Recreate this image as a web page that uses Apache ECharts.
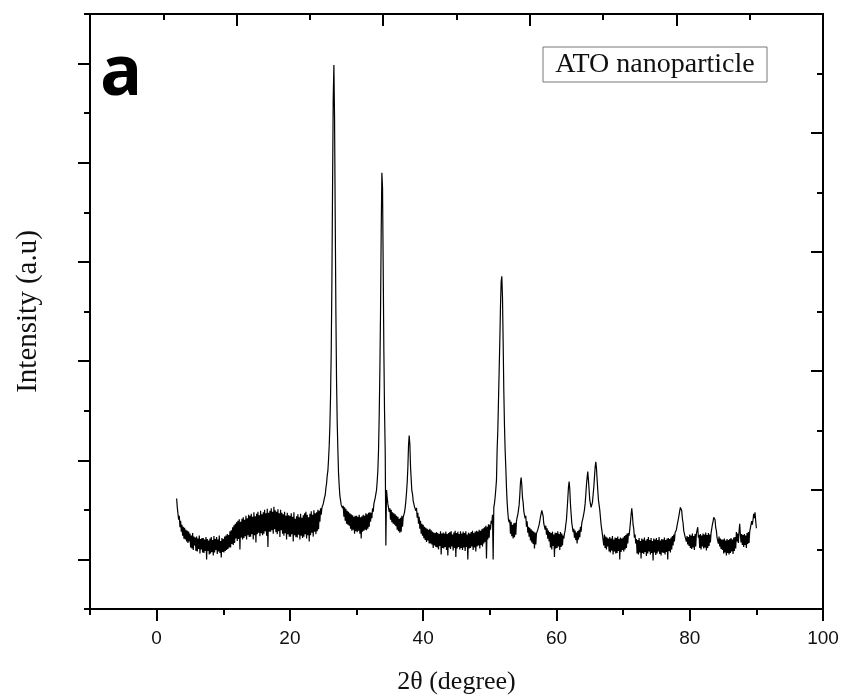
<!DOCTYPE html>
<html>
<head>
<meta charset="utf-8">
<script src="https://cdn.jsdelivr.net/npm/echarts@6/dist/echarts.min.js"></script>
<style>html,body{margin:0;padding:0;background:#fff}#c{width:847px;height:700px}</style>
</head>
<body>
<div id="c"></div>
<script>
// XRD pattern sampled every 0.1 degree, starting at 2θ = 3.0
const twoThetaStart = 3.0;
const twoThetaStep = 0.1;
const intensity = [
/* 3 */ 223,205,208,180,188,165,178,156,170,148,
/* 4 */ 166,142,164,140,160,136,158,133,156,136,
/* 5 */ 152,124,148,122,153,119,146,128,144,117,
/* 6 */ 146,116,142,121,148,112,141,120,143,114,
/* 7 */ 143,113,140,117,145,100,141,117,138,110,
/* 8 */ 142,112,145,115,139,108,147,114,141,119,
/* 9 */ 145,111,140,116,148,113,137,104,143,115,
/*10 */ 141,114,146,117,148,119,151,121,149,124,
/*11 */ 157,124,159,131,165,129,169,133,172,142,
/*12 */ 175,137,178,141,181,120,176,144,182,140,
/*13 */ 185,143,180,147,188,140,183,149,190,145,
/*14 */ 188,146,192,151,186,140,195,149,187,134,
/*15 */ 192,151,196,154,189,147,198,153,191,149,
/*16 */ 195,152,200,157,193,148,202,125,194,156,
/*17 */ 198,156,203,159,196,152,206,161,199,155,
/*18 */ 196,151,201,157,193,145,200,159,194,152,
/*19 */ 191,148,196,153,188,140,194,151,189,146,
/*20 */ 188,146,193,151,186,136,195,149,182,145,
/*21 */ 187,144,191,150,185,140,192,148,184,143,
/*22 */ 189,146,193,151,196,142,190,149,185,136,
/*23 */ 192,149,197,154,190,146,199,156,193,151,
/*24 */ 195,157,200,161,198,176,203,190,204,205,
/*25 */ 212,214,225,230,244,253,269,279,302,330,
/*26 */ 370,430,520,660,850,1030,1097,990,790,600,
/*27 */ 460,375,320,273,248,228,224,210,214,203,
/*28 */ 208,186,205,178,202,172,198,170,196,168,
/*29 */ 193,162,191,158,189,160,186,152,188,157,
/*30 */ 188,155,186,158,190,152,185,142,187,156,
/*31 */ 190,158,188,160,193,159,191,162,194,166,
/*32 */ 195,176,194,183,203,196,212,210,224,232,
/*33 */ 240,258,280,320,390,480,600,760,880,850,
/*34 */ 690,520,400,320,128,240,225,212,208,196,
/*35 */ 203,180,200,175,195,172,193,170,191,167,
/*36 */ 188,160,186,157,182,154,184,156,188,166,
/*37 */ 185,188,195,205,218,235,255,285,330,350,
/*38 */ 332,288,262,238,232,218,217,206,208,198,
/*39 */ 204,184,194,172,186,162,178,152,172,148,
/*40 */ 170,143,166,139,164,135,162,138,160,132,
/*41 */ 162,132,159,130,156,123,154,128,153,125,
/*42 */ 155,124,153,120,151,127,157,110,152,123,
/*43 */ 154,122,152,125,156,119,151,108,153,124,
/*44 */ 155,121,157,126,150,118,154,123,158,105,
/*45 */ 153,122,156,125,151,120,157,123,152,119,
/*46 */ 156,124,153,117,157,125,150,100,154,122,
/*47 */ 152,123,155,126,158,119,153,124,156,116,
/*48 */ 158,126,156,128,160,122,158,129,161,126,
/*49 */ 163,132,165,135,168,102,166,140,171,144,
/*50 */ 170,160,178,172,190,100,205,213,226,242,
/*51 */ 260,322,360,420,480,540,610,660,671,630,
/*52 */ 540,440,370,320,285,245,215,195,180,175,
/*53 */ 180,152,176,147,170,142,173,145,174,150,
/*54 */ 177,185,190,200,210,230,255,265,250,225,
/*55 */ 215,197,201,183,188,166,177,154,166,146,
/*56 */ 164,138,161,134,158,131,156,122,154,130,
/*57 */ 152,148,160,165,170,177,186,192,199,193,
/*58 */ 188,172,174,160,168,150,163,142,158,136,
/*59 */ 155,124,153,120,156,127,150,105,154,122,
/*60 */ 153,123,157,126,151,119,155,125,152,128,
/*61 */ 148,142,152,158,170,180,200,222,245,257,
/*62 */ 242,212,192,174,174,155,162,144,158,139,
/*63 */ 154,132,157,140,160,145,166,156,173,177,
/*64 */ 185,192,200,212,230,250,265,277,260,240,
/*65 */ 220,212,205,208,215,230,245,265,285,297,
/*66 */ 285,262,240,220,210,200,185,170,160,150,
/*67 */ 152,128,150,123,146,120,144,126,142,116,
/*68 */ 145,114,142,118,147,110,140,116,144,112,
/*69 */ 143,113,146,117,141,100,144,115,142,119,
/*70 */ 144,116,147,120,149,123,152,132,153,148,
/*71 */ 160,175,190,203,190,170,162,144,150,132,
/*72 */ 141,112,139,110,143,114,137,102,142,113,
/*73 */ 140,111,144,115,138,107,141,112,145,116,
/*74 */ 139,110,143,113,137,98,142,114,140,109,
/*75 */ 143,112,139,116,145,111,138,108,141,114,
/*76 */ 140,113,144,110,139,115,142,100,143,117,
/*77 */ 141,114,144,120,147,128,150,136,154,152,
/*78 */ 160,168,175,182,190,198,205,209,198,182,
/*79 */ 174,158,160,146,150,136,147,130,145,127,
/*80 */ 150,123,148,121,152,124,147,119,151,126,
/*81 */ 152,148,165,144,149,123,151,120,148,126,
/*82 */ 152,122,150,124,154,118,149,123,153,127,
/*83 */ 150,134,153,150,170,176,185,189,180,164,
/*84 */ 158,144,148,132,146,126,142,121,140,119,
/*85 */ 140,112,142,114,138,108,141,113,139,110,
/*86 */ 141,113,143,116,140,111,144,117,145,122,
/*87 */ 155,136,152,133,156,172,150,134,151,129,
/*88 */ 149,125,151,129,148,123,153,131,155,133,
/*89 */ 156,152,170,177,170,180,192,183,195,178,
/*90 */ 163
];
const xMajorTicks = [0, 20, 40, 60, 80, 100];
const xLabel = '2\u03b8 (degree)';
const yLabel = 'Intensity (a.u)';
const legendText = 'ATO nanoparticle';
const panelLetter = 'a';

const seriesData = intensity.map((v, i) => [Number((twoThetaStart + i * twoThetaStep).toFixed(1)), v]);

const chart = echarts.init(document.getElementById('c'), null, {renderer: 'canvas'});
const axisLine = {show: true, onZero: false, lineStyle: {color: '#000', width: 2}};
const tickStyle = {color: '#000', width: 2};
chart.setOption({
  animation: false,
  backgroundColor: '#fff',
  grid: {left: 90, right: 24, top: 14, bottom: 89, containLabel: false},
  xAxis: [
    {type: 'value', gridIndex: 0, position: 'bottom', min: -10, max: 100, interval: 10,
     axisLine: axisLine, axisTick: {show: true, length: 6, lineStyle: tickStyle},
     axisLabel: {show: false}, splitLine: {show: false}},
    {type: 'value', gridIndex: 0, position: 'bottom', min: -10, max: 100,
     axisLine: {show: false, onZero: false},
     axisTick: {show: true, length: 12, lineStyle: tickStyle, customValues: xMajorTicks},
     axisLabel: {show: true, customValues: xMajorTicks, margin: 20, fontSize: 19,
                 fontFamily: 'Liberation Sans', color: '#111'},
     splitLine: {show: false},
     name: xLabel, nameLocation: 'middle', nameGap: 60,
     nameTextStyle: {fontFamily: 'Liberation Serif', fontSize: 26, color: '#111'}},
    {type: 'value', gridIndex: 0, position: 'top', min: 0, max: 5, interval: 1,
     axisLine: axisLine, axisTick: {show: true, inside: true, length: 12, lineStyle: tickStyle},
     minorTick: {show: true, splitNumber: 2, length: 6, lineStyle: tickStyle},
     axisLabel: {show: false}, splitLine: {show: false}}
  ],
  yAxis: [
    {type: 'value', gridIndex: 0, position: 'left', min: 0, max: 1200, interval: 200,
     axisLine: axisLine, axisTick: {show: true, length: 6, lineStyle: tickStyle},
     minorTick: {show: true, splitNumber: 2, length: 12, lineStyle: tickStyle},
     axisLabel: {show: false}, splitLine: {show: false},
     name: yLabel, nameLocation: 'middle', nameGap: 47,
     nameTextStyle: {fontFamily: 'Liberation Serif', fontSize: 29, color: '#111'}},
    {type: 'value', gridIndex: 0, position: 'right', min: 0, max: 5, interval: 1,
     axisLine: axisLine, axisTick: {show: true, inside: true, length: 12, lineStyle: tickStyle},
     minorTick: {show: true, splitNumber: 2, length: 6, lineStyle: tickStyle},
     axisLabel: {show: false}, splitLine: {show: false}}
  ],
  series: [{
    type: 'line', xAxisIndex: 0, yAxisIndex: 0, data: seriesData,
    showSymbol: false, symbol: 'none', sampling: false,
    lineStyle: {color: '#000', width: 1.2}, z: 1
  }],
  graphic: [
    {type: 'text', left: 100, top: 40,
     style: {text: panelLetter, fontFamily: 'Open Sans', fontWeight: 'bold', fontSize: 70, fill: '#000'}},
    {type: 'rect', shape: {x: 543, y: 47, width: 224, height: 35},
     style: {fill: '#fff', stroke: '#777', lineWidth: 1}},
    {type: 'text', x: 655, y: 65,
     style: {text: legendText, fontFamily: 'Liberation Serif', fontSize: 28, fill: '#111',
             align: 'center', verticalAlign: 'middle'}}
  ]
});
</script>
</body>
</html>
